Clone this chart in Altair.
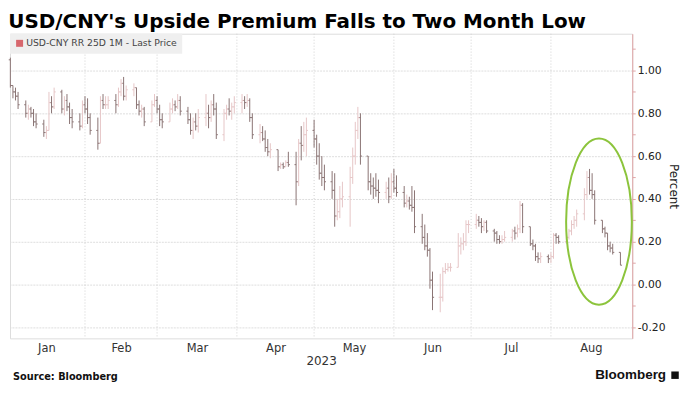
import altair as alt
import pandas as pd

# ---------------- data ----------------
# trading days of the series (first bar is Jan 3, last bar Aug 28)
dates = [d.strftime("%Y-%m-%dT00:00:00") for d in pd.bdate_range("2023-01-03", "2023-08-28")]

first_open = 1.05

high = [
    1.06, 0.93, 0.92, 0.90,
    0.86, 0.84, 0.83, 0.82, 0.80,
    0.77, 0.74, 0.90, 0.88, 0.92,
    0.91, 0.88, 0.89, 0.85, 0.82,
    0.80, 0.86, 0.88, 0.87, 0.80,
    0.78, 0.88, 0.89, 0.88, 0.88,
    0.89, 0.92, 0.96, 0.97, 0.93,
    0.94, 0.92, 0.86, 0.84, 0.83,
    0.86, 0.89, 0.88, 0.84, 0.80,
    0.85, 0.87, 0.86, 0.89, 0.88,
    0.83, 0.80, 0.78, 0.80, 0.82,
    0.89, 0.84, 0.86, 0.89, 0.85,
    0.82, 0.84, 0.87, 0.85, 0.88,
    0.89, 0.88, 0.89, 0.87, 0.80,
    0.75, 0.74, 0.72, 0.68, 0.66,
    0.59, 0.57, 0.57, 0.58, 0.62,
    0.62, 0.68, 0.74, 0.76, 0.78,
    0.77, 0.70, 0.66, 0.60, 0.56,
    0.53, 0.52, 0.40, 0.46, 0.48,
    0.55, 0.64, 0.76, 0.83, 0.80,
    0.60, 0.52, 0.50, 0.52, 0.49,
    0.48, 0.50, 0.52, 0.54, 0.51,
    0.46, 0.42, 0.41, 0.46, 0.44,
    0.33, 0.28, 0.24, 0.17, 0.06,
    0.05, 0.08, 0.10, 0.10, 0.10,
    0.24, 0.22, 0.24, 0.30, 0.30,
    0.33, 0.32, 0.31, 0.30, 0.30,
    0.26, 0.25, 0.23, 0.23, 0.25,
    0.26, 0.27, 0.28, 0.39, 0.38,
    0.27, 0.21, 0.19, 0.15, 0.15,
    0.14, 0.15, 0.24, 0.24, 0.23,
    0.24, 0.26, 0.30, 0.32, 0.35,
    0.45, 0.53, 0.54, 0.52, 0.44,
    0.29, 0.27, 0.22, 0.20, 0.19,
    0.14,
]

low = [
    0.92, 0.87, 0.86, 0.82,
    0.78, 0.77, 0.78, 0.74, 0.73,
    0.69, 0.68, 0.72, 0.80, 0.82,
    0.80, 0.79, 0.81, 0.75, 0.73,
    0.72, 0.73, 0.80, 0.75, 0.70,
    0.63, 0.66, 0.82, 0.82, 0.82,
    0.80, 0.83, 0.88, 0.86, 0.86,
    0.88, 0.82, 0.79, 0.78, 0.74,
    0.76, 0.83, 0.80, 0.74, 0.73,
    0.76, 0.80, 0.81, 0.82, 0.79,
    0.75, 0.70, 0.68, 0.72, 0.71,
    0.74, 0.73, 0.76, 0.79, 0.68,
    0.67, 0.77, 0.79, 0.77, 0.80,
    0.80, 0.82, 0.83, 0.76, 0.68,
    0.66, 0.67, 0.62, 0.60, 0.59,
    0.53, 0.54, 0.54, 0.55, 0.55,
    0.37, 0.46, 0.58, 0.62, 0.60,
    0.64, 0.56, 0.49, 0.46, 0.44,
    0.40, 0.27, 0.30, 0.31, 0.36,
    0.27, 0.47, 0.56, 0.68, 0.56,
    0.44, 0.42, 0.40, 0.41, 0.38,
    0.40, 0.38, 0.40, 0.43, 0.41,
    0.36, 0.36, 0.35, 0.34, 0.24,
    0.19, 0.16, 0.13, -0.02, -0.12,
    -0.13, -0.08, 0.05, 0.06, 0.06,
    0.08, 0.14, 0.16, 0.18, 0.24,
    0.26, 0.27, 0.24, 0.25, 0.24,
    0.20, 0.19, 0.19, 0.19, 0.20,
    0.20, 0.21, 0.22, 0.24, 0.24,
    0.18, 0.16, 0.11, 0.10, 0.10,
    0.10, 0.10, 0.12, 0.19, 0.19,
    0.19, 0.21, 0.23, 0.26, 0.27,
    0.30, 0.40, 0.42, 0.40, 0.28,
    0.24, 0.22, 0.16, 0.15, 0.14,
    0.09,
]

close = [
    0.93, 0.90, 0.88, 0.84,
    0.80, 0.82, 0.80, 0.76, 0.75,
    0.71, 0.72, 0.85, 0.83, 0.90,
    0.82, 0.86, 0.83, 0.78, 0.76,
    0.74, 0.84, 0.82, 0.78, 0.72,
    0.66, 0.86, 0.84, 0.84, 0.86,
    0.84, 0.90, 0.94, 0.88, 0.91,
    0.92, 0.84, 0.81, 0.82, 0.76,
    0.84, 0.86, 0.82, 0.77, 0.76,
    0.82, 0.84, 0.83, 0.86, 0.81,
    0.77, 0.72, 0.76, 0.74, 0.78,
    0.80, 0.78, 0.84, 0.82, 0.70,
    0.80, 0.82, 0.81, 0.83, 0.85,
    0.86, 0.85, 0.86, 0.78, 0.70,
    0.71, 0.68, 0.64, 0.62, 0.63,
    0.55, 0.56, 0.55, 0.57, 0.56,
    0.48, 0.66, 0.65, 0.70, 0.72,
    0.68, 0.60, 0.52, 0.50, 0.48,
    0.44, 0.32, 0.34, 0.40, 0.41,
    0.50, 0.60, 0.72, 0.78, 0.60,
    0.48, 0.46, 0.45, 0.44, 0.43,
    0.45, 0.41, 0.48, 0.45, 0.43,
    0.38, 0.39, 0.37, 0.36, 0.27,
    0.22, 0.18, 0.16, 0.02, -0.06,
    -0.06, 0.06, 0.07, 0.08, 0.08,
    0.18, 0.19, 0.20, 0.28, 0.28,
    0.30, 0.29, 0.27, 0.29, 0.25,
    0.24, 0.21, 0.20, 0.21, 0.22,
    0.25, 0.24, 0.26, 0.37, 0.27,
    0.19, 0.18, 0.13, 0.12, 0.13,
    0.12, 0.13, 0.23, 0.22, 0.20,
    0.22, 0.25, 0.28, 0.30, 0.33,
    0.42, 0.50, 0.44, 0.42, 0.30,
    0.26, 0.24, 0.18, 0.17, 0.15,
    0.09,
]

# open of each bar = previous bar's close (continuous FX quote)
opens = [first_open] + close[:-1]

assert len(dates) == len(high) == len(low) == len(close) == len(opens)

series_name = "USD-CNY RR 25D 1M - Last Price"
month_starts = ["2023-02-01T00:00:00", "2023-03-01T00:00:00", "2023-04-01T00:00:00",
                "2023-05-01T00:00:00", "2023-06-01T00:00:00", "2023-07-01T00:00:00",
                "2023-08-01T00:00:00"]
month_label_pos = [alt.DateTime(year=2023, month=1, date=17),
                   alt.DateTime(year=2023, month=2, date=15),
                   alt.DateTime(year=2023, month=3, date=16, hours=12),
                   alt.DateTime(year=2023, month=4, date=16),
                   alt.DateTime(year=2023, month=5, date=16, hours=12),
                   alt.DateTime(year=2023, month=6, date=16),
                   alt.DateTime(year=2023, month=7, date=16, hours=12),
                   alt.DateTime(year=2023, month=8, date=16, hours=12)]
y_ticks = [-0.2, -0.1, 0.0, 0.1, 0.2, 0.3, 0.4, 0.5, 0.6, 0.7, 0.8, 0.9, 1.0, 1.1]

# highlighted region (green ellipse)
ellipse_date = ["2023-08-19T16:00:00"]
ellipse_value = [0.294]

df = pd.DataFrame({"date": dates, "o": opens, "h": high, "l": low, "c": close})

# ---------------- styling ----------------
FONT = "DejaVu Sans"
DARK = "#8a7474"
LIGHT = "#e6c6c7"
AXIS_RED = "#e0a4a6"

x_scale = alt.Scale(domain=[alt.DateTime(year=2023, month=1, date=2, hours=20, minutes=40),
                            alt.DateTime(year=2023, month=9, date=1, hours=14)])
y_scale = alt.Scale(domain=[-0.252, 1.172], nice=False, zero=False)

x_axis = alt.Axis(values=month_label_pos, format="%b", ticks=False, domain=False, grid=False,
                  labelFont=FONT, labelFontSize=11.5, labelColor="#333333", labelPadding=4,
                  labelOverlap=False,
                  title="2023", titleFont=FONT, titleFontSize=12, titleFontWeight="normal",
                  titleColor="#333333", titlePadding=2)

y_axis = alt.Axis(orient="right", values=y_ticks, labelOverlap=False,
                  labelExpr="abs(round(datum.value*10)) % 2 == 0 ? replace(format(datum.value, '.2f'), '\u2212', '-') : ''",
                  gridOpacity={"condition": {"test": "abs(round(datum.value*10)) % 2 == 0", "value": 1}, "value": 0},
                  grid=True, gridColor="#dedede", gridDash=[2, 1],
                  domainColor=AXIS_RED, tickColor=AXIS_RED, tickSize=3,
                  labelFont=FONT, labelFontSize=10.8, labelColor="#222222", labelPadding=2,
                  title="Percent", titleFont=FONT, titleFontSize=12, titleFontWeight="normal",
                  titleColor="#222222", titlePadding=2)

base = alt.Chart(df).transform_calculate(
    hi="max(datum.h, datum.o, datum.c)",
    lo="min(datum.l, datum.o, datum.c)",
)

updown = alt.condition("datum.c < datum.o", alt.value(DARK), alt.value(LIGHT))

month_rules = alt.Chart(pd.DataFrame({"m": month_starts})).mark_rule(
    color="#d2d2d2", strokeDash=[1, 2], strokeWidth=1
).encode(x=alt.X("m:T", scale=x_scale, axis=x_axis))

stems = base.mark_rule(strokeWidth=1).encode(
    x=alt.X("date:T", scale=x_scale, axis=x_axis),
    y=alt.Y("lo:Q", scale=y_scale, axis=y_axis),
    y2="hi:Q",
    color=updown,
)

open_ticks = base.mark_rule(strokeWidth=1, xOffset=-1.6, x2Offset=0).encode(
    x=alt.X("date:T", scale=x_scale, axis=x_axis),
    x2="date:T",
    y=alt.Y("o:Q", scale=y_scale, axis=y_axis),
    color=updown,
)

close_ticks = base.mark_rule(strokeWidth=1, xOffset=0, x2Offset=1.6).encode(
    x=alt.X("date:T", scale=x_scale, axis=x_axis),
    x2="date:T",
    y=alt.Y("c:Q", scale=y_scale, axis=y_axis),
    color=updown,
)

legend_layer = base.transform_calculate(s="'" + series_name + "'").mark_square(opacity=0, size=1).encode(
    x=alt.X("date:T", scale=x_scale, axis=x_axis),
    y=alt.Y("c:Q", scale=y_scale, axis=y_axis),
    color=alt.Color("s:N", scale=alt.Scale(range=["#d7676d"]),
                    legend=alt.Legend(orient="top-left", title=None, offset=0, padding=5,
                                      fillColor="#efefef", symbolType="square", symbolSize=49,
                                      symbolOpacity=1, symbolStrokeWidth=0, labelFont=FONT,
                                      labelFontSize=9.3, labelColor="#444444", labelOffset=2)),
)

a = 33.0 / 83.5
k = 0.5523
ellipse_path = (
    f"M 0 -1 C {a*k:.4f} -1 {a:.4f} {-k:.4f} {a:.4f} 0 "
    f"C {a:.4f} {k:.4f} {a*k:.4f} 1 0 1 "
    f"C {-a*k:.4f} 1 {-a:.4f} {k:.4f} {-a:.4f} 0 "
    f"C {-a:.4f} {-k:.4f} {-a*k:.4f} -1 0 -1 Z"
)
ellipse = alt.Chart(pd.DataFrame({"d": ellipse_date, "v": ellipse_value})).mark_point(
    shape=ellipse_path, size=167 * 167, filled=False, color="#8cc43c", strokeWidth=2, opacity=1
).encode(
    x=alt.X("d:T", scale=x_scale, axis=x_axis),
    y=alt.Y("v:Q", scale=y_scale, axis=y_axis),
)

source_txt = alt.Chart(pd.DataFrame({"t": ["Source: Bloomberg"]})).mark_text(
    align="left", baseline="middle", font=FONT, fontWeight="bold", fontSize=9.8, color="#111111"
).encode(x=alt.value(3), y=alt.value(345), text="t:N")

brand_txt = alt.Chart(pd.DataFrame({"t": ["Bloomberg"]})).mark_text(
    align="right", baseline="middle", font="Liberation Sans", fontWeight="bold", fontSize=13.5,
    color="#111111"
).encode(x=alt.value(659), y=alt.value(343), text="t:N")

brand_icon = alt.Chart(pd.DataFrame({"t": ["icon"]})).mark_square(
    size=56, color="#111111", opacity=1
).encode(x=alt.value(668), y=alt.value(343))

chart = alt.layer(
    month_rules, stems, open_ticks, close_ticks, legend_layer, ellipse,
    source_txt, brand_txt, brand_icon,
).properties(
    width=625,
    height=306,
    padding={"left": 0, "top": 3, "right": 3, "bottom": 0},
    title=alt.TitleParams("USD/CNY's Upside Premium Falls to Two Month Low", anchor="start",
                          font=FONT, fontSize=20, fontWeight="bold", color="#000000", offset=1),
).configure_view(strokeWidth=0, stroke="transparent").configure(background="white")

chart.save("out.html", embed_options={"renderer": "svg", "actions": False})
